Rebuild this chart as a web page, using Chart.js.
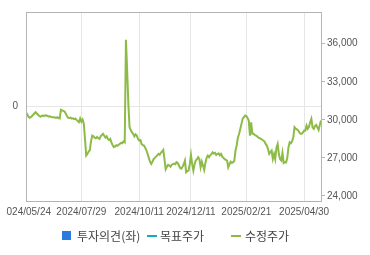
<!DOCTYPE html>
<html>
<head>
<meta charset="utf-8">
<script src="https://cdn.jsdelivr.net/npm/chart.js@4.4.1/dist/chart.umd.min.js"></script>
<style>
	body{ margin:0; background:#fff; }
	#wrap{ position:relative; width:370px; height:255px; }
	.lg{ position:absolute; top:228px; font-family:"Noto Sans CJK KR", sans-serif; font-size:12px; color:#444; line-height:16px; }
	.sq{ position:absolute; top:231px; width:9px; height:9px; background:#2b7be0; }
	.ln{ position:absolute; top:235px; width:10px; height:2px; }
</style>
</head>
<body>
<div id="wrap">
	<canvas id="grafico" width="370" height="255"></canvas>
	<div class="sq" style="left:62px"></div>
	<div class="lg" style="left:77px">투자의견(좌)</div>
	<div class="ln" style="left:147px;background:#1aa7bf"></div>
	<div class="lg" style="left:160px">목표주가</div>
	<div class="ln" style="left:231px;background:#8cbb46"></div>
	<div class="lg" style="left:245px">수정주가</div>
</div>
<script>
// posizioni (indice giorno) ed etichette dell'asse x
const tickIdx = [0, 46, 94, 137, 183, 231];
const tickLabels = ["2024/05/24", "2024/07/29", "2024/10/11", "2024/12/11", "2025/02/21", "2025/04/30"];
const priceTicks = [24000, 27000, 30000, 33000, 36000];

// 수정주가, un valore per giorno di borsa
const prezzi = [
	30600, 30450, 30250, 30160, 30200, 30300, 30400, 30500, 30600, 30500,
	30400, 30300, 30250, 30300, 30350, 30300, 30350, 30340, 30300, 30250,
	30280, 30220, 30210, 30200, 30180, 30150, 30200, 30130, 30100, 30790,
	30750, 30700, 30650, 30500, 30300, 30160, 30150, 30180, 30100, 30120,
	30050, 30100, 30000, 29900, 29810, 30100, 29850, 30020, 29700, 28500,
	27180, 27300, 27500, 27600, 28300, 28760, 28700, 28600, 28550, 28650,
	28550, 28500, 28700, 28800, 28900, 28750, 28600, 28700, 28500, 28400,
	28500, 28200, 28000, 27840, 27900, 28000, 27950, 28050, 28100, 28200,
	28150, 28300, 28230, 36310, 33890, 31260, 29420, 29200, 29000, 28900,
	28700, 28850, 28760, 28500, 28370, 28400, 28100, 28000, 27970, 27800,
	27600, 27300, 27000, 26700, 26530, 26700, 26900, 27000, 27100, 27200,
	27320, 27250, 27400, 27500, 27630, 26900, 26100, 26300, 26450, 26400,
	26300, 26450, 26500, 26550, 26500, 26660, 26600, 26400, 26200, 26150,
	26300, 26500, 26790, 25870, 25950, 26000, 26500, 27240, 26500, 26000,
	26500, 26790, 26900, 27050, 26900, 26260, 26700, 26400, 26050, 26600,
	27000, 27180, 27050, 27200, 27300, 27440, 27350, 27400, 27230, 27300,
	27350, 27200, 27320, 27100, 27000, 26900, 26850, 26790, 26260, 26500,
	26700, 26600, 26660, 26750, 27580, 28000, 28600, 28900, 29300, 29700,
	30100, 30200, 30340, 30300, 30150, 29940, 28760, 29800, 28900, 28900,
	28800, 28750, 28700, 28600, 28550, 28500, 28450, 28370, 28300, 28100,
	27970, 27700, 27320, 27450, 27580, 26920, 27300, 26900, 27800, 28100,
	27300, 26900, 26790, 27400, 26600, 26660, 26650, 27000, 27840, 28230,
	28150, 28300, 28630, 29420, 29300, 29250, 29160, 29000, 28900, 28900,
	29000, 29160, 29150, 29550, 29300, 29450, 29800, 30080, 29400, 29290,
	29500, 29600, 29400, 29200, 29600, 29940
];

const bordo = {
	id: 'bordo',
	afterDraw(chart){
		const a = chart.chartArea, ctx = chart.ctx;
		ctx.save();
		// il bordo sinistro dell'originale taglia la prima etichetta
		ctx.fillStyle = '#fff';
		ctx.fillRect(0, a.bottom + 2, 6, 20);
		ctx.strokeStyle = '#b4b4b4';
		ctx.lineWidth = 1;
		ctx.strokeRect(Math.round(a.left) + 0.5, Math.round(a.top) + 0.5, Math.round(a.right - a.left), Math.round(a.bottom - a.top));
		ctx.restore();
	}
};

const fontTick = { family: '"Liberation Sans", Arial, sans-serif', size: 10 };

new Chart(document.getElementById('grafico'), {
	type: 'line',
	data: {
		datasets: [{
			label: '수정주가',
			data: prezzi.map((v, i) => ({ x: i, y: v })),
			yAxisID: 'y1',
			borderColor: '#8cbb46',
			borderWidth: 2,
			pointRadius: 0,
			tension: 0,
			fill: false
		}]
	},
	options: {
		responsive: false,
		animation: false,
		layout: { padding: { top: 12, left: 0, right: 0, bottom: 0 } },
		plugins: { legend: { display: false }, tooltip: { enabled: false } },
		scales: {
			x: {
				type: 'linear',
				min: 0,
				max: prezzi.length - 1,
				afterBuildTicks: s => { s.ticks = tickIdx.map(v => ({ value: v })); },
				afterFit: s => { s.height = 54; s.paddingLeft = 0; s.paddingRight = 0; },
				ticks: {
					autoSkip: false,
					maxRotation: 0,
					padding: 5,
					color: '#555',
					font: fontTick,
					callback: v => tickLabels[tickIdx.indexOf(v)] ?? ''
				},
				grid: { color: '#e6e6e6', drawTicks: false },
				border: { display: false }
			},
			y: {
				position: 'left',
				min: -1,
				max: 1,
				afterBuildTicks: s => { s.ticks = [{ value: 0 }]; },
				afterFit: s => { s.width = 26; s.paddingTop = 0; s.paddingBottom = 0; },
				ticks: { padding: 8, color: '#555', font: fontTick },
				grid: { color: '#e6e6e6', drawTicks: false },
				border: { display: false }
			},
			y1: {
				position: 'right',
				min: 23600,
				max: 38500,
				afterBuildTicks: s => { s.ticks = priceTicks.map(v => ({ value: v })); },
				afterFit: s => { s.width = 49; s.paddingTop = 0; s.paddingBottom = 0; },
				ticks: {
					padding: 2,
					color: '#555',
					font: fontTick,
					callback: v => v.toLocaleString('en-US')
				},
				grid: { drawOnChartArea: false, color: '#b4b4b4', tickLength: 4 },
				border: { display: false }
			}
		}
	},
	plugins: [bordo]
});
</script>
</body>
</html>
